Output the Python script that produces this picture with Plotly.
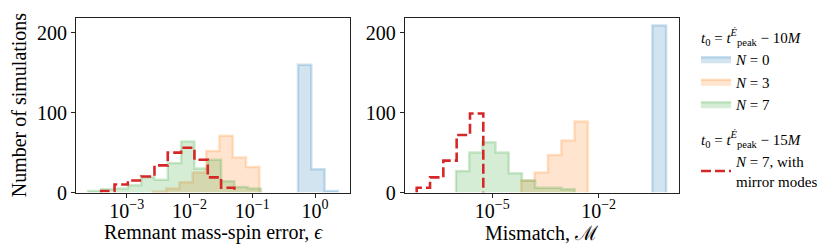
import plotly.graph_objects as go

# ---------------- data (log10 bin edges + counts) ----------------
# Left panel: remnant mass-spin error
eps_n0_edges = [-0.271, -0.059, 0.153, 0.366]
eps_n0_counts = [160, 29, 2]
eps_n3_edges = [-2.586, -2.374, -2.161, -1.949, -1.736, -1.524, -1.311, -1.099, -0.887]
eps_n3_counts = [1, 5, 13, 25, 52, 71, 44, 32]
eps_n7_edges = [-3.621, -3.409, -3.196, -2.984, -2.771, -2.559, -2.347, -2.134,
                -1.922, -1.709, -1.497, -1.285, -1.072, -0.860]
eps_n7_counts = [2, 4, 5, 9, 19, 16, 37, 64, 30, 41, 14, 7, 5]
eps_mirror_edges = [-3.409, -3.196, -2.984, -2.771, -2.559, -2.347, -2.134,
                    -1.922, -1.709, -1.497, -1.285]
eps_mirror_counts = [2, 10, 15, 20, 34, 50, 56, 41, 19, 6]

# Right panel: mismatch
mm_n0_edges = [-0.483, -0.094]
mm_n0_counts = [209]
mm_n3_edges = [-4.182, -3.806, -3.431, -3.055, -2.680, -2.304]
mm_n3_counts = [15, 25, 47, 65, 89]
mm_n7_edges = [-6.023, -5.651, -5.279, -4.907, -4.535, -4.163, -3.791, -3.419, -3.047, -2.675]
mm_n7_counts = [27, 50, 63, 50, 24, 15, 6, 6, 4]
mm_mirror_edges = [-7.131, -6.755, -6.380, -6.004, -5.628, -5.253]
mm_mirror_counts = [6, 19, 40, 72, 99]

series_names = ["<i>N</i> = 0", "<i>N</i> = 3", "<i>N</i> = 7",
                "<i>N</i> = 7, with<br>mirror modes"]
group_titles = ["<i>t</i><sub>0</sub> = <i>t</i><sup><i>Ė</i></sup><sub>peak</sub> − 10<i>M</i>",
                "<i>t</i><sub>0</sub> = <i>t</i><sup><i>Ė</i></sup><sub>peak</sub> − 15<i>M</i>"]
x_titles = ["Remnant mass-spin error, <i>ϵ</i>", "Mismatch, ℳ"]
left_ticks = [1e-3, 1e-2, 1e-1, 1e0]
left_ticktext = ["10<sup>−3</sup>", "10<sup>−2</sup>", "10<sup>−1</sup>", "10<sup>0</sup>"]
right_ticks = [1e-5, 1e-2]
right_ticktext = ["10<sup>−5</sup>", "10<sup>−2</sup>"]
y_ticks = [0, 100, 200]

# ---------------- helpers ----------------
def step_outline(log_edges, counts):
    xs, ys = [], []
    for i, c in enumerate(counts):
        xs += [10 ** log_edges[i], 10 ** log_edges[i + 1]]
        ys += [c, c]
    xs = [xs[0]] + xs + [xs[-1]]
    ys = [0] + ys + [0]
    return xs, ys

colors = {
    "blue": (31, 119, 180),
    "orange": (255, 127, 14),
    "green": (44, 160, 44),
}

FONT = "Liberation Serif"
TS = 20
LS = 15
fig = go.Figure()

panels = [
    ("x", "y", [(eps_n0_edges, eps_n0_counts, "blue"),
                (eps_n3_edges, eps_n3_counts, "orange"),
                (eps_n7_edges, eps_n7_counts, "green")],
     (eps_mirror_edges, eps_mirror_counts)),
    ("x2", "y2", [(mm_n0_edges, mm_n0_counts, "blue"),
                  (mm_n3_edges, mm_n3_counts, "orange"),
                  (mm_n7_edges, mm_n7_counts, "green")],
     (mm_mirror_edges, mm_mirror_counts)),
]

for p, (xa, ya, filled, mirror) in enumerate(panels):
    for k, (e, c, col) in enumerate(filled):
        xs, ys = step_outline(e, c)
        r, g, b = colors[col]
        fig.add_trace(go.Scatter(
            x=xs, y=ys, xaxis=xa, yaxis=ya, mode="lines",
            fill="toself", fillcolor=f"rgba({r},{g},{b},0.2)",
            line=dict(color=f"rgba({r},{g},{b},0.22)", width=2.5),
            name=series_names[k], legendgroup="g10",
            legendgrouptitle=dict(text=group_titles[0]),
            showlegend=(p == 0), hoverinfo="skip"))
    e, c = mirror
    xs, ys = step_outline(e, c)
    fig.add_trace(go.Scatter(
        x=xs, y=ys, xaxis=xa, yaxis=ya, mode="lines",
        line=dict(color="#d62728", width=2.6, dash="10px,4px"),
        name=series_names[3], legendgroup="g15",
        legendgrouptitle=dict(text=group_titles[1]),
        showlegend=(p == 0), hoverinfo="skip"))

axis_common = dict(showline=True, linecolor="#222", linewidth=1, mirror=True,
                   ticks="outside", ticklen=4, tickcolor="#222", showgrid=False,
                   zeroline=False, tickfont=dict(family=FONT, size=TS, color="black"))

W, H = 830, 251
dom1 = [68 / W, 342 / W]
dom2 = [396.7 / W, 670.7 / W]
fig.update_layout(
    width=W, height=H,
    margin=dict(l=0, r=0, t=0, b=0),
    paper_bgcolor="white", plot_bgcolor="white",
    font=dict(family=FONT, size=16, color="black"),
    xaxis=dict(type="log", domain=dom1, range=[-3.81, 0.558],
               tickvals=left_ticks, ticktext=left_ticktext, ticklabelstandoff=-4,
               anchor="y", **axis_common),
    yaxis=dict(domain=[1 - 193 / H, 1 - 10 / H], range=[0, 219], tickvals=y_ticks,
               title=dict(text="Number of simulations", standoff=6,
                          font=dict(family=FONT, size=TS)),
               anchor="x", **axis_common),
    xaxis2=dict(type="log", domain=dom2, range=[-7.47, 0.26],
                tickvals=right_ticks, ticktext=right_ticktext, ticklabelstandoff=-4,
                anchor="y2", **axis_common),
    yaxis2=dict(domain=[1 - 193 / H, 1 - 10 / H], range=[0, 219], tickvals=y_ticks,
                anchor="x2", **axis_common),
    legend=dict(x=688 / W, y=1 - 13 / H, xanchor="left", yanchor="top",
                traceorder="grouped", tracegroupgap=12, itemwidth=30,
                font=dict(family=FONT, size=LS), bgcolor="rgba(0,0,0,0)",
                grouptitlefont=dict(family=FONT, size=LS)),
)

for dom, txt in zip([dom1, dom2], x_titles):
    fig.add_annotation(text=txt, xref="paper", yref="paper",
                       x=(dom[0] + dom[1]) / 2, y=1 - 235 / H,
                       xanchor="center", yanchor="middle", showarrow=False,
                       font=dict(family=FONT, size=TS, color="black"))

fig.write_html("out.html")
